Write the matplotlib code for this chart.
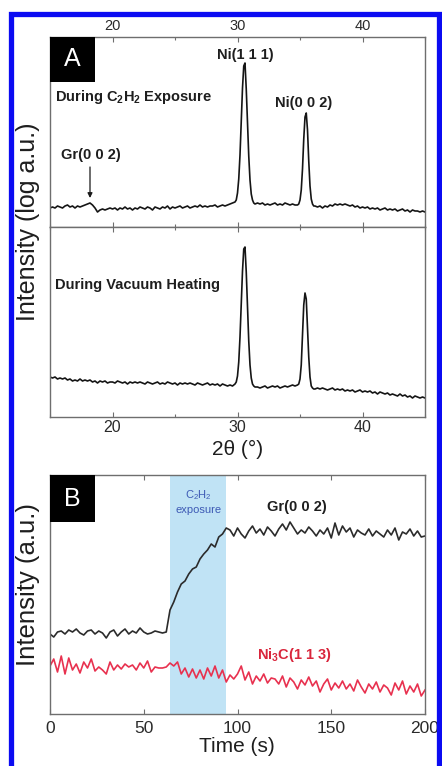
import numpy as np
import matplotlib
matplotlib.use("Agg")
import matplotlib.pyplot as plt
from matplotlib.patches import Rectangle
from matplotlib.ticker import MultipleLocator

plt.rcParams["font.family"] = ["Liberation Sans", "DejaVu Sans"]
plt.rcParams["mathtext.fontset"] = "custom"
plt.rcParams["mathtext.rm"] = "Liberation Sans"
plt.rcParams["mathtext.bf"] = "Liberation Sans:bold"

# ---------------- XRD patterns (panel A) ----------------
# 2-theta grid: 0.2 deg steps on the background, 0.1 deg steps across the Ni peaks
two_theta = np.concatenate([
    np.arange(150, 298, 2), np.arange(298, 315, 1), np.arange(316, 348, 2),
    np.arange(348, 363, 1), np.arange(364, 451, 2)]) / 10.0

# log intensity (a.u.) during C2H2 exposure
exposure_bg_low = [19, 20, 19, 21, 20, 19, 21, 22, 20, 21, 19, 21, 20, 21, 22,
                   23, 24, 22, 19, 15, 17, 18, 17, 18, 19,
                   18, 19, 17, 19, 18, 20, 18, 19, 17, 19,
                   18, 20, 19, 18, 20, 19, 17, 20, 19, 18,
                   20, 19, 21, 18, 20, 19, 20, 21, 19, 20,
                   21, 19, 20, 21, 20, 22, 20, 21, 20, 21,
                   21, 22, 20, 21, 22, 21, 22, 23, 24]
exposure_ni111 = [25, 27, 34, 48, 72, 105, 139, 161, 164, 138, 104, 71, 47, 33, 27, 24, 23]
exposure_bg_mid = [24, 23, 24, 22, 23, 22, 23, 24, 22, 23, 22, 24, 23, 22, 23, 22]
exposure_ni002 = [22, 23, 27, 37, 58, 88, 110, 114, 97, 66, 41, 28, 23, 21, 21]
exposure_bg_high = [20, 21, 19, 21, 20, 22, 21, 23, 22, 23,
                    22, 23, 22, 21, 22, 20, 21, 19, 20, 19,
                    20, 18, 19, 18, 19, 17, 18, 19, 17, 18,
                    17, 18, 16, 17, 18, 16, 17, 15, 17, 16,
                    16, 15, 16, 15]

# log intensity (a.u.) during vacuum heating
heating_bg_low = [40, 39, 40, 38, 39, 38, 39, 37, 38, 36, 37, 36, 38, 36, 37,
                  36, 37, 35, 36, 34, 36, 35, 36, 34, 35,
                  35, 34, 36, 35, 34, 35, 33, 35, 34, 35,
                  34, 35, 34, 33, 35, 34, 33, 34, 35, 33,
                  34, 33, 35, 34, 33, 34, 32, 34, 33, 34,
                  33, 34, 33, 32, 34, 33, 32, 33, 34, 32,
                  33, 32, 33, 31, 33, 32, 31, 32, 31]
heating_ni111 = [33, 35, 41, 55, 80, 112, 146, 168, 170, 145, 110, 76, 52, 39, 33, 31, 30]
heating_bg_mid = [30, 29, 30, 31, 29, 30, 31, 30, 31, 29, 30, 31, 30, 31, 32, 31]
heating_ni002 = [32, 33, 38, 52, 82, 112, 124, 118, 90, 60, 40, 31, 29, 28, 28]
heating_bg_high = [29, 28, 29, 28, 27, 28, 29, 27, 28, 27,
                   28, 26, 27, 26, 27, 25, 26, 27, 25, 26,
                   25, 26, 24, 25, 23, 25, 24, 23, 24, 22,
                   23, 22, 21, 23, 21, 22, 20, 21, 19, 21,
                   20, 19, 20, 19]

exposure_counts = np.concatenate([exposure_bg_low, exposure_ni111, exposure_bg_mid,
                                  exposure_ni002, exposure_bg_high])
heating_counts = np.concatenate([heating_bg_low, heating_ni111, heating_bg_mid,
                                 heating_ni002, heating_bg_high])

# ---------------- time series (panel B) ----------------
time_s = np.arange(0, 201, 2)
gr002 = [80, 77, 82, 83, 80, 84, 82, 85, 81, 79, 83, 84, 80, 83, 81, 76,
         82, 84, 78, 82, 85, 80, 83, 81, 86, 82, 80, 81, 83, 82, 81, 82,
         104, 112, 122, 130, 133, 140, 145, 147, 155, 160, 164, 170, 167, 177, 180, 186,
         184, 178, 186, 180, 176, 183, 188, 181, 185, 179,
         187, 183, 178, 185, 190, 184, 192, 186, 180, 184,
         181, 187, 183, 178, 184, 180, 186, 176, 191, 179,
         188, 182, 186, 177, 184, 181, 179, 185, 178, 183,
         180, 177, 184, 179, 186, 174, 182, 180, 185, 178,
         183, 177, 178]
ni3c113 = [48, 55, 42, 58, 40, 56, 44, 50, 41, 52,
           46, 55, 43, 47, 44, 40, 52, 44, 49, 45,
           50, 47, 49, 44, 51, 46, 53, 42, 47, 46,
           46, 47, 51, 48, 52, 40, 46, 37, 45, 36,
           44, 35, 46, 38, 48, 36, 44, 32, 39, 35,
           40, 48, 34, 42, 30, 38, 33, 40, 31, 36,
           35, 30, 38, 27, 36, 32, 25, 34, 29, 37,
           28, 33, 22, 30, 35, 24, 31, 26, 33, 25,
           30, 23, 34, 27, 21, 30, 25, 32, 22, 29,
           26, 19, 31, 24, 33, 20, 28, 22, 30, 18,
           24]
exposure_window = (64, 94)

# ---------------- figure ----------------
W, H = 442, 766
fig = plt.figure(figsize=(W / 100, H / 100), dpi=100)
fig.patch.set_facecolor("white")


def px_axes(left, top, right, bottom):
    return fig.add_axes([left / W, 1 - bottom / H, (right - left) / W, (bottom - top) / H])


TXT = "#1e1e1e"
FRAME = "#6e6e6e"


def style(ax):
    for s in ax.spines.values():
        s.set_color(FRAME)
        s.set_linewidth(1.0)
    ax.set_yticks([])
    ax.tick_params(axis="x", which="both", direction="in", top=True, bottom=True,
                   color=FRAME, labelcolor="#2a2a2a")
    ax.tick_params(axis="x", which="major", length=3.5, width=0.8)
    ax.tick_params(axis="x", which="minor", length=2, width=0.8)


ax_top = px_axes(50, 37, 425, 227)
ax_bot = px_axes(50, 227, 425, 417)
ax_b = px_axes(50, 475, 425, 714)

for ax, counts in ((ax_top, exposure_counts), (ax_bot, heating_counts)):
    ax.plot(two_theta, counts, color="#151515", lw=1.2)
    ax.set_xlim(15, 45)
    ax.set_ylim(0, 190)
    style(ax)
    ax.xaxis.set_major_locator(MultipleLocator(10))
    ax.xaxis.set_minor_locator(MultipleLocator(5))

ax_top.tick_params(axis="x", labeltop=True, labelbottom=False, labelsize=10.5, pad=3)
ax_bot.tick_params(axis="x", labeltop=False, labelbottom=True, labelsize=11.5, pad=2.5)

# annotations, panel A
ax_top.text(30.6, 172, "Ni(1 1 1)", ha="center", va="center", fontsize=10.5,
            fontweight="bold", color=TXT)
ax_top.text(35.3, 124, "Ni(0 0 2)", ha="center", va="center", fontsize=10.5,
            fontweight="bold", color=TXT)
ax_top.text(15.4, 130, r"During C$_\mathbf{2}$H$_\mathbf{2}$ Exposure", ha="left",
            va="center", fontsize=10.5, fontweight="bold", color=TXT)
ax_top.text(15.85, 72, "Gr(0 0 2)", ha="left", va="center", fontsize=10.5,
            fontweight="bold", color=TXT)
ax_top.annotate("", xy=(18.2, 29), xytext=(18.2, 60),
                arrowprops=dict(arrowstyle="-|>", color="#1a1a1a", lw=0.9,
                                mutation_scale=7, shrinkA=0, shrinkB=0))
ax_bot.text(15.4, 132, "During Vacuum Heating", ha="left", va="center", fontsize=10.5,
            fontweight="bold", color=TXT)

ax_top.add_patch(Rectangle((0, 1 - 45 / 190), 45 / 375, 45 / 190, transform=ax_top.transAxes,
                           facecolor="black", edgecolor="none", zorder=5))
ax_top.text(22.5 / 375, 1 - 22.5 / 190, "A", transform=ax_top.transAxes, ha="center",
            va="center", fontsize=18, color="white", zorder=6)

fig.text(28 / W, 1 - 222 / H, "Intensity (log a.u.)", rotation=90, ha="center",
         va="center", fontsize=18, color=TXT)
fig.text(238 / W, 1 - 449 / H, "2θ (°)", ha="center", va="center", fontsize=15, color=TXT)

# panel B
ax_b.axvspan(*exposure_window, color="#c0e3f5", lw=0, zorder=0)
ax_b.plot(time_s, gr002, color="#2b2b2b", lw=1.2, zorder=2)
ax_b.plot(time_s, ni3c113, color="#e8314f", lw=1.2, zorder=2)
ax_b.set_xlim(0, 200)
ax_b.set_ylim(0, 239)
style(ax_b)
ax_b.xaxis.set_major_locator(MultipleLocator(50))
ax_b.tick_params(axis="x", labelsize=12.5, pad=5)

ax_b.text(131.5, 207, "Gr(0 0 2)", ha="center", va="center", fontsize=10.5,
          fontweight="bold", color=TXT)
ax_b.text(130.5, 59, r"Ni$_\mathbf{3}$C(1 1 3)", ha="center", va="center", fontsize=10.5,
          fontweight="bold", color="#d9263c")
ax_b.text(79, 219, r"C$_\mathrm{2}$H$_\mathrm{2}$", ha="center", va="center", fontsize=8,
          color="#3d5ab5")
ax_b.text(79, 204, "exposure", ha="center", va="center", fontsize=8, color="#3d5ab5")

ax_b.add_patch(Rectangle((0, 1 - 47 / 239), 45 / 375, 47 / 239, transform=ax_b.transAxes,
                         facecolor="black", edgecolor="none", zorder=5))
ax_b.text(22.5 / 375, 1 - 23.5 / 239, "B", transform=ax_b.transAxes, ha="center",
          va="center", fontsize=18, color="white", zorder=6)

fig.text(28 / W, 1 - 585 / H, "Intensity (a.u.)", rotation=90, ha="center",
         va="center", fontsize=18.5, color=TXT)
fig.text(237 / W, 1 - 747 / H, "Time (s)", ha="center", va="center", fontsize=15,
         color=TXT)

# blue frame around the figure
frame = Rectangle((10.5 / W, -0.05), 428 / W, 1 - 13.5 / H + 0.05, transform=fig.transFigure,
                  fill=False, edgecolor="#0b0bf2", linewidth=3.8, zorder=50)
fig.add_artist(frame)

fig.savefig("out.png", dpi=100, facecolor="white")
